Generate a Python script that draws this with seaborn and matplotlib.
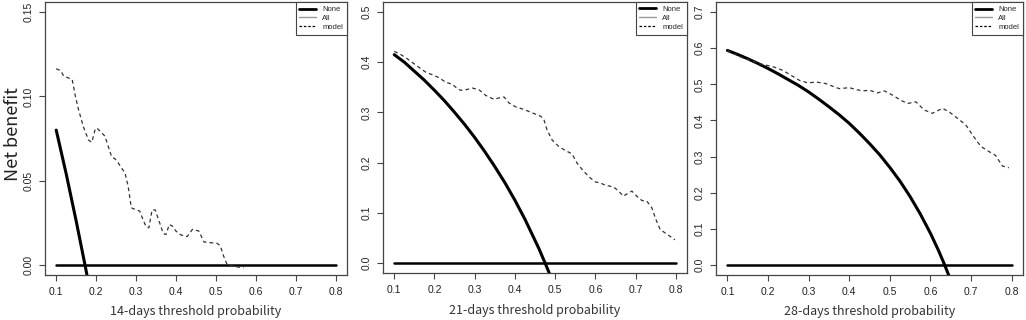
import numpy as np
import pandas as pd
import seaborn as sns
import matplotlib.pyplot as plt
from matplotlib.lines import Line2D

# threshold probabilities and net benefit
days = ['14', '21', '28']
y_max = [0.15, 0.5, 0.7]
y_ticks = [[0.00, 0.05, 0.10, 0.15],
           [0.0, 0.1, 0.2, 0.3, 0.4, 0.5],
           [0.0, 0.1, 0.2, 0.3, 0.4, 0.5, 0.6, 0.7]]
y_fmt = ['{:.2f}', '{:.1f}', '{:.1f}']
x_ticks = [0.1, 0.2, 0.3, 0.4, 0.5, 0.6, 0.7, 0.8]

# "All" curves (treat everyone)
all_x_14 = [0.1, 0.125, 0.15, 0.172, 0.18]
all_y_14 = [0.080, 0.054, 0.026, 0.0, -0.0097]
all_x_21 = [0.1, 0.125, 0.15, 0.175, 0.2, 0.225, 0.25, 0.275, 0.3, 0.325, 0.35,
            0.375, 0.4, 0.425, 0.45, 0.46, 0.475, 0.49]
all_y_21 = [0.415, 0.400, 0.382, 0.364, 0.344, 0.323, 0.300, 0.276, 0.250, 0.222, 0.192,
            0.160, 0.125, 0.087, 0.045, 0.028, 0.0, -0.029]
all_x_28 = [0.1, 0.125, 0.15, 0.175, 0.2, 0.225, 0.25, 0.275, 0.3, 0.325, 0.35, 0.375,
            0.4, 0.425, 0.45, 0.475, 0.5, 0.525, 0.55, 0.575, 0.6, 0.62, 0.635, 0.65]
all_y_28 = [0.594, 0.583, 0.571, 0.558, 0.544, 0.529, 0.513, 0.497, 0.479, 0.459, 0.438, 0.416,
            0.392, 0.365, 0.336, 0.305, 0.270, 0.232, 0.189, 0.141, 0.0875, 0.0395, 0.0, -0.043]

# "None" line
none_x = [0.1, 0.8]
none_y = [0.0, 0.0]

# model curves
model_x_14 = [0.100, 0.111, 0.119, 0.127, 0.140, 0.148, 0.156, 0.168, 0.181, 0.189, 0.197,
              0.2015, 0.210, 0.222, 0.230, 0.239, 0.247, 0.255, 0.263, 0.272, 0.280, 0.288,
              0.3006, 0.309, 0.317, 0.325, 0.332, 0.340, 0.348, 0.356, 0.368, 0.375, 0.383,
              0.391, 0.400, 0.412, 0.428, 0.441, 0.457, 0.470, 0.486, 0.503, 0.511, 0.519,
              0.528, 0.540, 0.552, 0.569]
model_y_14 = [0.1164, 0.1153, 0.112, 0.1113, 0.110, 0.100, 0.092, 0.082, 0.074, 0.0728, 0.080,
              0.0813, 0.0793, 0.0764, 0.0705, 0.064, 0.063, 0.0606, 0.0576, 0.0547, 0.0468, 0.0339,
              0.0326, 0.032, 0.027, 0.0227, 0.022, 0.0326, 0.0326, 0.027, 0.0186, 0.018, 0.024,
              0.023, 0.020, 0.0178, 0.0168, 0.0211, 0.0201, 0.0136, 0.0132, 0.0128, 0.0112, 0.0053,
              0.0, -0.0006, -0.0012, -0.0016]
model_x_21 = [0.100, 0.1165, 0.133, 0.1496, 0.166, 0.1785, 0.199, 0.2116, 0.228, 0.2446, 0.257,
              0.265, 0.278, 0.294, 0.311, 0.327, 0.348, 0.360, 0.373, 0.385, 0.4017, 0.422,
              0.443, 0.4636, 0.472, 0.480, 0.4926, 0.509, 0.5256, 0.542, 0.5545, 0.571, 0.5876,
              0.600, 0.6124, 0.625, 0.6455, 0.658, 0.670, 0.6826, 0.691, 0.703, 0.7157, 0.728,
              0.7405, 0.749, 0.761, 0.7777, 0.790, 0.798]
model_y_21 = [0.4216, 0.415, 0.4065, 0.3966, 0.387, 0.380, 0.3735, 0.369, 0.360, 0.356, 0.347,
              0.344, 0.345, 0.3485, 0.345, 0.334, 0.326, 0.3287, 0.3307, 0.319, 0.311, 0.306,
              0.299, 0.2925, 0.286, 0.265, 0.245, 0.232, 0.224, 0.2174, 0.199, 0.1825, 0.1693,
              0.1614, 0.1594, 0.1548, 0.1515, 0.143, 0.133, 0.1397, 0.143, 0.133, 0.1245, 0.1232,
              0.110, 0.090, 0.067, 0.0573, 0.0507, 0.046]
model_x_28 = [0.100, 0.118, 0.1385, 0.159, 0.1794, 0.1999, 0.216, 0.2367, 0.257, 0.2777, 0.298,
              0.3187, 0.343, 0.3595, 0.376, 0.400, 0.4169, 0.433, 0.4496, 0.470, 0.4865, 0.5069,
              0.527, 0.5437, 0.564, 0.5847, 0.605, 0.6175, 0.6297, 0.646, 0.6665, 0.687, 0.7034,
              0.7238, 0.740, 0.7606, 0.777, 0.793]
model_y_28 = [0.593, 0.584, 0.573, 0.566, 0.557, 0.552, 0.5476, 0.5385, 0.5248, 0.511, 0.504,
              0.5065, 0.502, 0.4947, 0.488, 0.491, 0.4855, 0.482, 0.4837, 0.4764, 0.4819, 0.470,
              0.456, 0.447, 0.4518, 0.429, 0.4198, 0.427, 0.4335, 0.424, 0.406, 0.388, 0.360,
              0.3286, 0.3167, 0.303, 0.274, 0.269]

all_x = [all_x_14, all_x_21, all_x_28]
all_y = [all_y_14, all_y_21, all_y_28]
model_x = [model_x_14, model_x_21, model_x_28]
model_y = [model_y_14, model_y_21, model_y_28]

sns.set_style('white')
plt.rcParams['font.family'] = ['Liberation Sans', 'DejaVu Sans']
label_font = ['Noto Sans CJK SC', 'DejaVu Sans']

fig = plt.figure(figsize=(10.26, 3.2), dpi=100)
positions = [[0.0439, 0.1406, 0.2943, 0.853],
             [0.3733, 0.1469, 0.2963, 0.847],
             [0.6979, 0.1406, 0.2992, 0.853]]
xlabel_y = [-0.132, -0.140, -0.132]

for i in range(3):
    ax = fig.add_axes(positions[i])
    sns.lineplot(x=none_x, y=none_y, ax=ax, color='black', linewidth=1.8)
    sns.lineplot(x=all_x[i], y=all_y[i], ax=ax, color='black', linewidth=2.2, sort=False)
    sns.lineplot(x=model_x[i], y=model_y[i], ax=ax, color='#333333', linewidth=0.9,
                 dashes=False, linestyle=(0, (3, 2.5)), sort=False)

    ax.set_xlim(0.072, 0.828)
    ax.set_ylim(-0.04 * y_max[i], 1.04 * y_max[i])
    ax.set_xticks(x_ticks)
    ax.set_xticklabels([f'{t:.1f}' for t in x_ticks], fontsize=7.5, color='#222222')
    ax.set_yticks(y_ticks[i])
    ax.set_yticklabels([y_fmt[i].format(t) for t in y_ticks[i]], fontsize=7.5,
                       rotation=90, va='center', color='#222222')
    ax.tick_params(axis='both', direction='out', length=4.5, width=0.8, color='#444444',
                   bottom=True, left=True, pad=4)
    for s in ax.spines.values():
        s.set_color('#444444')
        s.set_linewidth(0.9)

    ax.set_xlabel(f'{days[i]}-days threshold probability', fontsize=9,
                  family=label_font, color='#333333')
    ax.xaxis.label.set_va('center')
    ax.xaxis.set_label_coords(0.5, xlabel_y[i])
    if i == 0:
        ax.set_ylabel('Net benefit', fontsize=13, family=label_font, color='#222222')
        ax.yaxis.label.set_va('center')
        ax.yaxis.set_label_coords(-0.106, 0.516)
    else:
        ax.set_ylabel('')

    handles = [Line2D([], [], color='black', linewidth=2),
               Line2D([], [], color='#999999', linewidth=1),
               Line2D([], [], color='black', linewidth=0.9, linestyle=(0, (2, 1.5)))]
    leg = ax.legend(handles, ['None', 'All', 'model'], loc='upper right', fontsize=5.5,
                    borderaxespad=0, fancybox=False, framealpha=1, edgecolor='#444444',
                    handlelength=2.2, handletextpad=0.8, borderpad=0.5, labelspacing=0.2)
    leg.get_frame().set_linewidth(0.8)

fig.savefig('out.png', dpi=100)
